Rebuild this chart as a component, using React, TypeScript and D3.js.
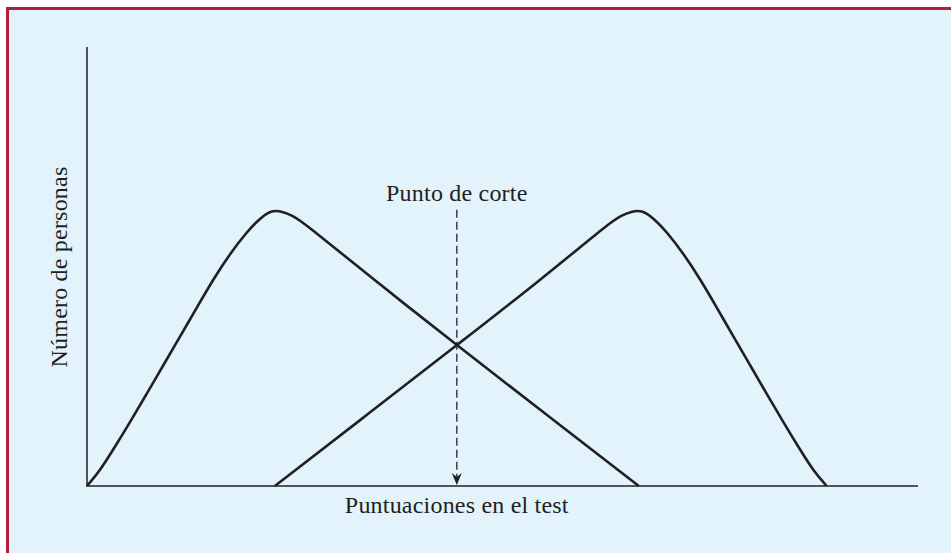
import React from "react";
import * as d3 from "d3";

// Distribution of scores for two groups (relative frequency, 0-100 scale)
const leftScores = [0, 1.56, 3.16, 5.17, 7.18, 9.18, 11.19, 13.2, 15.2, 17.2, 19.2, 20.8, 22.3, 23.5, 24.7, 25.9, 35.3, 44.5, 54.5, 66.4];
const leftCounts = [0, 3.5, 8.3, 14.5, 21.0, 27.5, 34.0, 40.6, 47.1, 52.9, 57.8, 61.0, 62.9, 62.5, 61.6, 60.3, 45.8, 32.1, 17.4, 0];

const rightScores = [22.6, 34.1, 44.5, 54.5, 63.1, 64.3, 65.5, 66.7, 68.2, 69.8, 71.8, 73.8, 75.8, 77.8, 79.8, 81.8, 83.8, 85.8, 87.4, 89.0];
const rightCounts = [0, 16.8, 32.1, 46.8, 60.3, 61.6, 62.5, 62.9, 61.0, 57.8, 52.9, 47.1, 40.6, 34.0, 27.5, 21.0, 14.5, 8.3, 3.5, 0];

const cutScore = [44.5];
const cutTop = [62.9];

const xLabel = "Puntuaciones en el test";
const yLabel = "Número de personas";
const cutLabel = "Punto de corte";

const W = 951;
const H = 553;

export default function App() {
  const x = d3.scaleLinear().domain([0, 100]).range([87, 918]);
  const y = d3.scaleLinear().domain([0, 100]).range([486, 47]);

  const line = d3
    .line<[number, number]>()
    .x((d) => x(d[0]))
    .y((d) => y(d[1]))
    .curve(d3.curveBasis);

  const leftPts = leftScores.map((s, i) => [s, leftCounts[i]] as [number, number]);
  const rightPts = rightScores.map((s, i) => [s, rightCounts[i]] as [number, number]);

  const cx = x(cutScore[0]);
  const cy0 = y(cutTop[0]);
  const cy1 = y(0);
  const arrowH = 13;
  const arrowW = 5;

  const font = "'Liberation Serif', 'Times New Roman', serif";
  const textColor = "#231f20";

  return (
    <svg
      width={W}
      height={H}
      style={{ position: "absolute", left: 0, top: 0, background: "#ffffff" }}
    >
      <rect x={7.5} y={8.5} width={W + 10} height={H + 10} fill="#E2F3FB" stroke="#B01E3C" strokeWidth={3} />

      {/* axes */}
      <line x1={x(0)} x2={x(0)} y1={y(100)} y2={y(0)} stroke="#231f20" strokeWidth={1.5} />
      <line x1={x(0) - 0.75} x2={x(100)} y1={y(0)} y2={y(0)} stroke="#231f20" strokeWidth={1.5} />

      {/* cut-off line */}
      <line
        x1={cx}
        x2={cx}
        y1={cy0}
        y2={cy1 - arrowH + 4}
        stroke="#4a4a4a"
        strokeWidth={1.6}
        strokeDasharray="8,4"
      />
      <path
        d={`M${cx},${cy1 - 1} L${cx - arrowW},${cy1 - arrowH} L${cx},${cy1 - arrowH + 4} L${cx + arrowW},${cy1 - arrowH} Z`}
        fill="#231f20"
      />

      {/* curves */}
      <path d={line(leftPts) || ""} fill="none" stroke="#231f20" strokeWidth={2.6} strokeLinejoin="round" />
      <path d={line(rightPts) || ""} fill="none" stroke="#231f20" strokeWidth={2.6} strokeLinejoin="round" />

      {/* labels */}
      <text x={cx} y={201} textAnchor="middle" fontFamily={font} fontSize={24} letterSpacing={0.2} fill={textColor}>
        {cutLabel}
      </text>
      <text x={cx} y={513} textAnchor="middle" fontFamily={font} fontSize={24} letterSpacing={0.2} fill={textColor}>
        {xLabel}
      </text>
      <text
        transform={`translate(67, 267) rotate(-90)`}
        textAnchor="middle"
        fontFamily={font}
        fontSize={24}
        letterSpacing={0.2}
        fill={textColor}
      >
        {yLabel}
      </text>
    </svg>
  );
}
